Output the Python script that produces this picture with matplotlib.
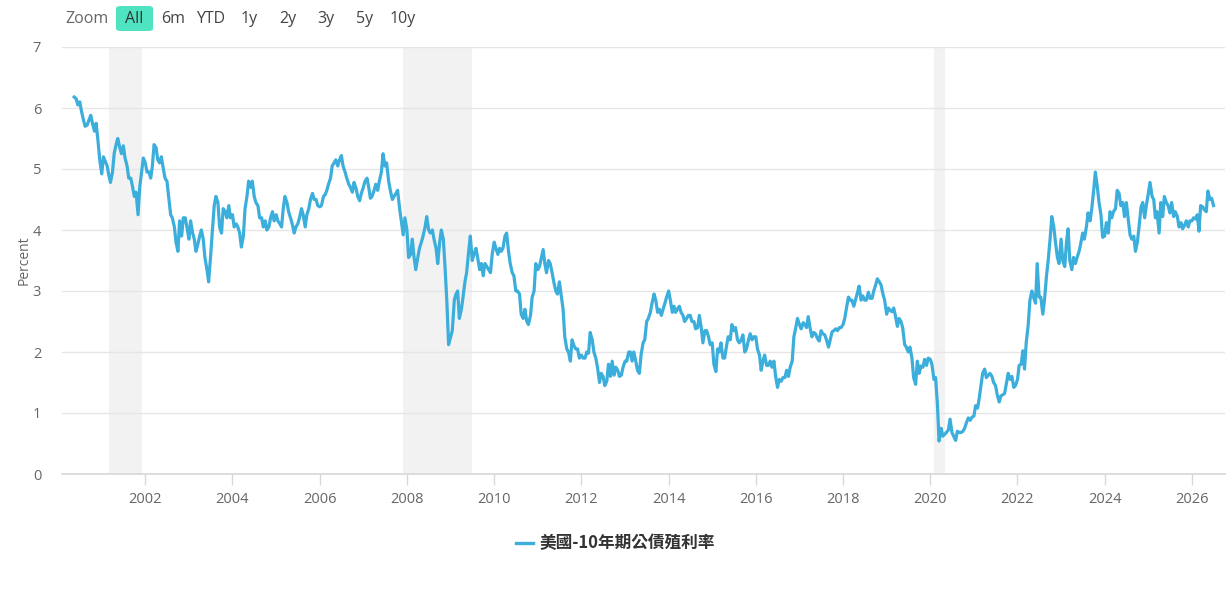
import numpy as np
import pandas as pd
import matplotlib
matplotlib.use('Agg')
import matplotlib.pyplot as plt
import matplotlib.dates as mdates
from matplotlib.patches import FancyBboxPatch

plt.rcParams['font.family'] = ['Open Sans', 'Noto Sans CJK TC', 'DejaVu Sans']

# US 10y yield, two points per month (1st / 15th)
y2000 = [6.18, 6.15, 6.05, 6.10, 5.95, 5.80, 5.70, 5.72, 5.80, 5.88, 5.75, 5.62, 5.75, 5.45, 5.15]
y2001 = [4.92, 5.20, 5.12, 5.05, 4.90, 4.78, 4.95, 5.25, 5.40, 5.50, 5.35, 5.25,
         5.38, 5.18, 5.05, 4.85, 4.85, 4.72, 4.55, 4.62, 4.25, 4.70, 4.95, 5.18]
y2002 = [5.10, 4.95, 4.95, 4.85, 5.05, 5.40, 5.35, 5.15, 5.10, 5.20, 5.00, 4.85,
         4.80, 4.55, 4.25, 4.20, 4.05, 3.80, 3.65, 4.15, 3.90, 4.20, 4.20, 4.05]
y2003 = [3.85, 4.15, 3.95, 3.85, 3.65, 3.75, 3.90, 4.00, 3.85, 3.55, 3.35, 3.15,
         3.55, 3.95, 4.40, 4.55, 4.45, 4.05, 3.95, 4.35, 4.30, 4.20, 4.40, 4.20]
y2004 = [4.25, 4.05, 4.10, 4.05, 3.95, 3.72, 3.90, 4.35, 4.55, 4.80, 4.70, 4.80,
         4.55, 4.45, 4.40, 4.20, 4.20, 4.05, 4.15, 4.00, 4.05, 4.20, 4.30, 4.15]
y2005 = [4.25, 4.15, 4.10, 4.05, 4.35, 4.55, 4.45, 4.30, 4.20, 4.10, 3.95, 4.05,
         4.10, 4.20, 4.35, 4.25, 4.05, 4.25, 4.35, 4.50, 4.60, 4.50, 4.50, 4.40]
y2006 = [4.38, 4.40, 4.55, 4.58, 4.65, 4.75, 4.85, 5.05, 5.10, 5.15, 5.05, 5.15,
         5.22, 5.05, 4.95, 4.85, 4.75, 4.70, 4.62, 4.78, 4.68, 4.55, 4.48, 4.60]
y2007 = [4.70, 4.80, 4.85, 4.70, 4.52, 4.55, 4.65, 4.75, 4.65, 4.80, 4.95, 5.25,
         5.05, 5.10, 4.80, 4.65, 4.50, 4.55, 4.60, 4.65, 4.35, 4.15, 3.92, 4.20]
y2008 = [4.00, 3.55, 3.60, 3.85, 3.55, 3.35, 3.55, 3.70, 3.80, 3.90, 4.05, 4.22,
         4.00, 3.95, 4.00, 3.85, 3.70, 3.45, 3.80, 4.00, 3.85, 3.40, 2.80, 2.12]
y2009 = [2.25, 2.35, 2.85, 2.95, 3.00, 2.55, 2.70, 2.90, 3.15, 3.30, 3.65, 3.90,
         3.50, 3.60, 3.70, 3.55, 3.35, 3.45, 3.25, 3.45, 3.40, 3.35, 3.30, 3.60]
y2010 = [3.80, 3.70, 3.60, 3.70, 3.65, 3.70, 3.90, 3.95, 3.65, 3.45, 3.30, 3.25,
         3.00, 3.00, 2.95, 2.62, 2.55, 2.70, 2.50, 2.45, 2.60, 2.90, 3.00, 3.45]
y2011 = [3.35, 3.40, 3.55, 3.68, 3.45, 3.30, 3.50, 3.45, 3.30, 3.15, 3.00, 2.95,
         3.15, 2.95, 2.70, 2.25, 2.05, 2.00, 1.85, 2.20, 2.10, 2.05, 2.05, 1.90]
y2012 = [1.95, 1.90, 1.90, 2.00, 1.98, 2.32, 2.20, 2.00, 1.90, 1.75, 1.50, 1.65,
         1.60, 1.45, 1.52, 1.80, 1.60, 1.85, 1.62, 1.75, 1.70, 1.60, 1.62, 1.75]
y2013 = [1.85, 1.85, 2.00, 2.00, 1.85, 2.00, 1.85, 1.70, 1.65, 1.95, 2.15, 2.20,
         2.50, 2.55, 2.65, 2.80, 2.95, 2.85, 2.65, 2.70, 2.60, 2.70, 2.80, 2.90]
y2014 = [3.00, 2.85, 2.65, 2.75, 2.65, 2.70, 2.75, 2.65, 2.60, 2.50, 2.55, 2.60,
         2.60, 2.50, 2.50, 2.38, 2.40, 2.60, 2.40, 2.15, 2.35, 2.35, 2.25, 2.12]
y2015 = [2.15, 1.80, 1.68, 2.05, 2.00, 2.15, 1.90, 1.90, 2.10, 2.25, 2.20, 2.45,
         2.35, 2.40, 2.20, 2.15, 2.20, 2.28, 2.00, 2.05, 2.20, 2.30, 2.20, 2.25]
y2016 = [2.25, 2.05, 1.95, 1.70, 1.85, 1.95, 1.78, 1.78, 1.85, 1.75, 1.85, 1.60,
         1.42, 1.55, 1.52, 1.58, 1.58, 1.70, 1.60, 1.75, 1.85, 2.25, 2.40, 2.55]
y2017 = [2.45, 2.38, 2.48, 2.45, 2.40, 2.58, 2.38, 2.25, 2.32, 2.30, 2.22, 2.18,
         2.35, 2.30, 2.28, 2.20, 2.08, 2.20, 2.33, 2.35, 2.38, 2.35, 2.40, 2.40]
y2018 = [2.45, 2.55, 2.75, 2.90, 2.85, 2.85, 2.75, 2.85, 2.97, 3.08, 2.85, 2.92,
         2.85, 2.85, 2.98, 2.88, 2.88, 3.00, 3.10, 3.20, 3.15, 3.10, 2.95, 2.85]
y2019 = [2.62, 2.72, 2.68, 2.66, 2.72, 2.60, 2.42, 2.55, 2.50, 2.40, 2.12, 2.08,
         2.00, 2.08, 1.90, 1.58, 1.47, 1.85, 1.65, 1.77, 1.75, 1.88, 1.78, 1.90]
y2020 = [1.88, 1.80, 1.55, 1.58, 1.15, 0.54, 0.75, 0.62, 0.65, 0.68, 0.72, 0.90,
         0.68, 0.62, 0.55, 0.70, 0.68, 0.68, 0.70, 0.75, 0.85, 0.92, 0.88, 0.93]
y2021 = [0.95, 1.12, 1.08, 1.25, 1.45, 1.65, 1.72, 1.58, 1.62, 1.65, 1.60, 1.50,
         1.45, 1.30, 1.18, 1.28, 1.30, 1.32, 1.50, 1.65, 1.55, 1.60, 1.42, 1.45]
y2022 = [1.55, 1.78, 1.80, 2.02, 1.72, 2.15, 2.45, 2.85, 3.00, 2.90, 2.80, 3.45,
         2.90, 2.90, 2.62, 2.85, 3.25, 3.50, 3.85, 4.22, 4.05, 3.80, 3.55, 3.45]
y2023 = [3.85, 3.50, 3.40, 3.80, 4.02, 3.50, 3.35, 3.55, 3.45, 3.55, 3.65, 3.78,
         3.95, 3.85, 4.05, 4.28, 4.15, 4.35, 4.65, 4.95, 4.70, 4.45, 4.25, 3.88]
y2024 = [3.90, 4.12, 3.95, 4.30, 4.20, 4.30, 4.35, 4.65, 4.60, 4.40, 4.45, 4.22,
         4.45, 4.20, 3.92, 3.85, 3.90, 3.65, 3.80, 4.05, 4.38, 4.45, 4.20, 4.40]
y2025 = [4.60, 4.78, 4.55, 4.50, 4.20, 4.30, 3.95, 4.45, 4.22, 4.55, 4.45, 4.40,
         4.28, 4.45, 4.22, 4.30, 4.22, 4.05, 4.12, 4.02, 4.08, 4.15, 4.05, 4.15]
y2026 = [4.15, 4.20, 4.18, 4.25, 3.98, 4.40, 4.38, 4.33, 4.30, 4.64, 4.50, 4.52, 4.40]

yields = y2000 + y2001 + y2002 + y2003 + y2004 + y2005 + y2006 + y2007 + y2008 + \
    y2009 + y2010 + y2011 + y2012 + y2013 + y2014 + y2015 + y2016 + y2017 + \
    y2018 + y2019 + y2020 + y2021 + y2022 + y2023 + y2024 + y2025 + y2026
dates = pd.date_range('2000-05-15', periods=len(yields), freq='SMS')

# recessions (shaded)
rec_start = ['2001-03-01', '2007-12-01', '2020-02-01']
rec_end = ['2001-11-30', '2009-06-30', '2020-04-30']

buttons = ['6m', 'YTD', '1y', '2y', '3y', '5y', '10y']
button_x = [161, 196, 241, 279, 317, 356, 390]

W, H = 1231, 594
fig = plt.figure(figsize=(W / 100, H / 100), dpi=100)
ax = fig.add_axes([62 / W, 1 - 474 / H, (1225 - 62) / W, (474 - 47) / H])

for s, e in zip(rec_start, rec_end):
    ax.axvspan(pd.Timestamp(s), pd.Timestamp(e), color='#f2f2f2', lw=0, zorder=0)

line_color = '#3caedb'
ax.plot(dates, yields, color=line_color, lw=2.3, zorder=3,
        solid_joinstyle='round')

ax.set_ylim(0, 7)
ax.set_yticks(range(0, 8))
ax.set_xlim(pd.Timestamp('2000-02-03'), pd.Timestamp('2026-10-05'))
ax.xaxis.set_major_locator(mdates.YearLocator(2))
ax.xaxis.set_major_formatter(mdates.DateFormatter('%Y'))

ax.grid(axis='y', color='#e6e6e6', lw=1)
ax.set_axisbelow(True)
for side in ['top', 'right', 'left']:
    ax.spines[side].set_visible(False)
ax.spines['bottom'].set_color('#d8d8d8')
ax.spines['bottom'].set_linewidth(1.2)
ax.tick_params(axis='y', length=0, pad=15, labelsize=10.5, labelcolor='#666666')
ax.tick_params(axis='x', length=8, width=1, color='#d8d8d8', pad=5,
               labelsize=10.5, labelcolor='#666666')
ax.set_ylabel('Percent', color='#666666', fontsize=10, labelpad=1)

# legend below the plot
fig.lines.append(plt.Line2D([516 / W, 533 / W], [1 - 543 / H] * 2, color=line_color,
                            lw=2.4, transform=fig.transFigure))
fig.text(540 / W, 1 - 543 / H, '美國-10年期公債殖利率', fontsize=12, fontweight='bold',
         color='#333333', va='center', ha='left',
         family=['Noto Sans CJK TC', 'DejaVu Sans'])

# range selector buttons
fig.text(65 / W, 1 - 19 / H, 'Zoom', fontsize=11.5, color='#666666', va='center')
fig.patches.append(FancyBboxPatch((116 / W, 1 - 31 / H), 37 / W, 25 / H,
                                  boxstyle='round,pad=0,rounding_size=0.004',
                                  transform=fig.transFigure, fc='#4fe3c2', ec='none'))
fig.text(134.5 / W, 1 - 19 / H, 'All', fontsize=11.5, color='#333333', va='center', ha='center')
for b, bx in zip(buttons, button_x):
    fig.text(bx / W, 1 - 19 / H, b, fontsize=11.5, color='#444444', va='center')

fig.savefig('out.png', dpi=100, facecolor='white')
